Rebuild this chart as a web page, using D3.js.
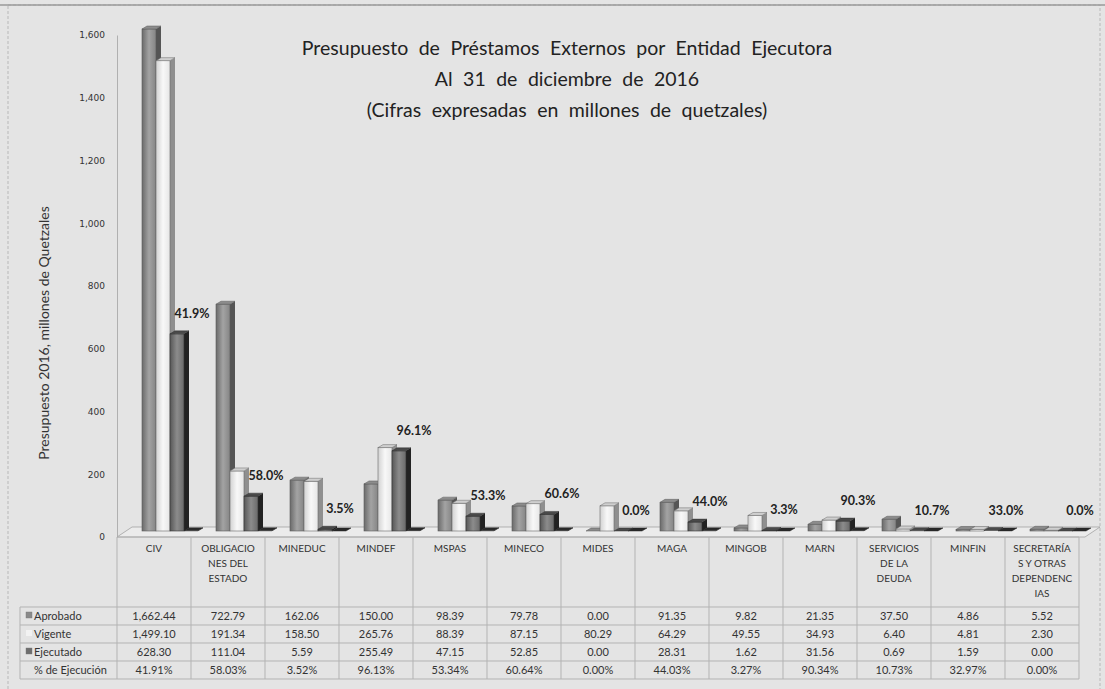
<!DOCTYPE html>
<html>
<head>
<meta charset="utf-8">
<script src="https://cdn.jsdelivr.net/npm/d3@7"></script>
<style>
body{margin:0;background:#e4e4e4;}
svg{display:block;}
</style>
</head>
<body>
<div id="chart"></div>
<script>
// data
var categories = ["CIV","OBLIGACIONES DEL ESTADO","MINEDUC","MINDEF","MSPAS","MINECO","MIDES","MAGA","MINGOB","MARN","SERVICIOS DE LA DEUDA","MINFIN","SECRETARÍAS Y OTRAS DEPENDENCIAS"];
var categoryLines = [["CIV"],["OBLIGACIO","NES DEL","ESTADO"],["MINEDUC"],["MINDEF"],["MSPAS"],["MINECO"],["MIDES"],["MAGA"],["MINGOB"],["MARN"],["SERVICIOS","DE LA","DEUDA"],["MINFIN"],["SECRETARÍA","S Y OTRAS","DEPENDENC","IAS"]];
var aprobado  = [1662.44, 722.79, 162.06, 150.00, 98.39, 79.78, 0.00, 91.35, 9.82, 21.35, 37.50, 4.86, 5.52];
var vigente   = [1499.10, 191.34, 158.50, 265.76, 88.39, 87.15, 80.29, 64.29, 49.55, 34.93, 6.40, 4.81, 2.30];
var ejecutado = [628.30, 111.04, 5.59, 255.49, 47.15, 52.85, 0.00, 28.31, 1.62, 31.56, 0.69, 1.59, 0.00];
var pctEjecucion = [41.91, 58.03, 3.52, 96.13, 53.34, 60.64, 0.00, 44.03, 3.27, 90.34, 10.73, 32.97, 0.00];
var yTicks = [0, 200, 400, 600, 800, 1000, 1200, 1400, 1600];
var titleLines = ["Presupuesto de Préstamos Externos por Entidad Ejecutora", "Al 31 de diciembre de 2016", "(Cifras expresadas en millones de quetzales)"];

var width = 1105, height = 689;

// the 4 series in the 3D chart; % is plotted as a flat bar (fraction of 1)
var series = [
  {key:"apr", name:"Aprobado", values:aprobado, stops:["#6a6a6a","#a3a3a3","#858585"], edge:"#5a5a5a", side:"#555", top:"#8c8c8c", marker:"#8a8a8a"},
  {key:"vig", name:"Vigente", values:vigente, stops:["#d2d2d2","#f8f8f8","#e6e6e6"], edge:"#6a6a6a", side:"#8f8f8f", top:"#cfcfcf", marker:"#f2f2f2"},
  {key:"eje", name:"Ejecutado", values:ejecutado, stops:["#575757","#8c8c8c","#6a6a6a"], edge:"#333", side:"#222", top:"#4a4a4a", marker:"#6e6e6e"},
  {key:"pct", name:"% de Ejecución", values:pctEjecucion.map(function(p){return p/100}), stops:["#333","#444","#333"], edge:"#222", side:"#1e1e1e", top:"#2a2a2a", marker:null}
];

var svg = d3.select("#chart").append("svg")
  .attr("width", width)
  .attr("height", height)
  .style("font-family", "Lato, 'Open Sans', sans-serif");

svg.append("rect").attr("width", width).attr("height", height).attr("fill", "#e4e4e4");

var defs = svg.append("defs");
series.forEach(function(s){
  var gr = defs.append("linearGradient").attr("id", "grad-" + s.key).attr("x1", "0%").attr("x2", "100%");
  s.stops.forEach(function(c, i){
    gr.append("stop").attr("offset", (i * 50) + "%").attr("stop-color", c);
  });
});

// chart frame
svg.append("rect").attr("x", 8).attr("y", 5).attr("width", 1092).attr("height", 690)
  .attr("fill", "none").attr("stroke", "#b8b8b8").attr("stroke-dasharray", "3,2");
svg.append("line").attr("x1", 0).attr("x2", width).attr("y1", 5).attr("y2", 5)
  .attr("stroke", "#9a9a9a").attr("stroke-width", 1.5);

var x = d3.scaleBand().domain(categories).range([117, 1079]);
var xs = d3.scaleBand().domain(series.map(function(s){return s.key})).range([25, 81]);
var y = d3.scaleLinear().domain([0, 1600]).range([537, 35]).clamp(true);

var lift = 6, depthX = 5, depthY = 3;

// y axis
var yAxis = svg.append("g")
  .attr("transform", "translate(117,0)")
  .call(d3.axisLeft(y).tickValues(yTicks).tickFormat(d3.format(",")).tickSize(0).tickPadding(12));
yAxis.select(".domain").attr("stroke", "#b0b0b0");
yAxis.selectAll("text").attr("fill", "#333").style("font-family", "'DejaVu Sans', sans-serif").style("font-size", "9px");

svg.append("text")
  .attr("transform", "translate(49,333) rotate(-90)")
  .attr("text-anchor", "middle")
  .attr("fill", "#333")
  .style("font-size", "14px")
  .text("Presupuesto 2016, millones de Quetzales");

// floor of the 3d plot
svg.append("path")
  .attr("d", "M117,537 L1085,537 L1100,527 L132,527 Z")
  .attr("fill", "#ebebeb").attr("stroke", "#9a9a9a").attr("stroke-width", 0.7);

function drawBar(g, x0, w, v, s){
  var yTop = y(v) - lift, yBase = y(0) - lift;
  g.append("path")
    .attr("d", "M" + (x0 + w) + "," + yTop + " L" + (x0 + w + depthX) + "," + (yTop - depthY) + " L" + (x0 + w + depthX) + "," + (yBase - depthY) + " L" + (x0 + w) + "," + yBase + "Z")
    .attr("fill", s.side);
  if(yBase - yTop > 0.5){
    g.append("rect")
      .attr("x", x0).attr("y", yTop).attr("width", w).attr("height", yBase - yTop)
      .attr("fill", "url(#grad-" + s.key + ")")
      .attr("stroke", s.edge).attr("stroke-width", 0.6);
  }
  g.append("path")
    .attr("d", "M" + x0 + "," + yTop + " L" + (x0 + depthX) + "," + (yTop - depthY) + " L" + (x0 + w + depthX) + "," + (yTop - depthY) + " L" + (x0 + w) + "," + yTop + "Z")
    .attr("fill", s.top).attr("stroke", s.edge).attr("stroke-width", 0.5);
}

var bars = svg.append("g");
categories.forEach(function(c, i){
  var g = bars.append("g");
  series.forEach(function(s){
    drawBar(g, x(c) + xs(s.key), xs.bandwidth(), s.values[i], s);
  });
});

// % labels sit over the Ejecutado bar
svg.append("g").selectAll("text")
  .data(categories)
  .join("text")
  .attr("x", function(c){ return x(c) + xs("eje") + xs.bandwidth() / 2 + 15 })
  .attr("y", function(c, i){ return y(ejecutado[i]) - lift - 16 })
  .attr("text-anchor", "middle")
  .attr("fill", "#222")
  .style("font-size", "12.5px")
  .style("font-weight", "bold")
  .text(function(c, i){ return d3.format(".1f")(pctEjecucion[i]) + "%" });

// title
svg.append("g").selectAll("text")
  .data(titleLines)
  .join("text")
  .attr("x", 567)
  .attr("y", function(d, i){ return 55 + i * 31 })
  .attr("text-anchor", "middle")
  .attr("fill", "#222")
  .style("font-size", "19.5px")
  .style("word-spacing", "5.5px")
  .text(function(d){ return d });

// data table
var table = svg.append("g").attr("fill", "#333");
var rowTop = 607, rowH = 18, tableLeft = 20, tableRight = x.range()[1];
var lineColor = "#b3b3b3";

table.append("line").attr("x1", 117).attr("x2", tableRight).attr("y1", 537).attr("y2", 537).attr("stroke", lineColor);
d3.range(5).forEach(function(r){
  table.append("line").attr("x1", tableLeft).attr("x2", tableRight)
    .attr("y1", rowTop + r * rowH).attr("y2", rowTop + r * rowH).attr("stroke", lineColor);
});
categories.concat([null]).forEach(function(c){
  var xx = c ? x(c) : tableRight;
  table.append("line").attr("x1", xx).attr("x2", xx).attr("y1", 537).attr("y2", rowTop + 4 * rowH).attr("stroke", lineColor);
});
table.append("line").attr("x1", tableLeft).attr("x2", tableLeft).attr("y1", rowTop).attr("y2", rowTop + 4 * rowH).attr("stroke", lineColor);

categories.forEach(function(c, i){
  table.append("g").selectAll("text")
    .data(categoryLines[i])
    .join("text")
    .attr("x", x(c) + x.bandwidth() / 2)
    .attr("y", function(d, k){ return 552 + k * 15 })
    .attr("text-anchor", "middle")
    .style("font-size", "10px")
    .text(function(d){ return d });
});

var fmtVal = d3.format(",.2f");
series.forEach(function(s, r){
  var cy = rowTop + r * rowH + rowH / 2 + 4;
  if(s.marker){
    table.append("rect").attr("x", tableLeft + 6).attr("y", cy - 8).attr("width", 6).attr("height", 6)
      .attr("fill", s.marker).attr("stroke", s.key == "vig" ? "none" : "#777").attr("stroke-width", 0.4);
  }
  table.append("text").attr("x", tableLeft + 14).attr("y", cy).style("font-size", "11px").text(s.name);
  table.append("g").selectAll("text")
    .data(categories)
    .join("text")
    .attr("x", function(c){ return x(c) + x.bandwidth() / 2 })
    .attr("y", cy)
    .attr("text-anchor", "middle")
    .style("font-size", "11px")
    .text(function(c, i){ return s.key == "pct" ? d3.format(".2f")(pctEjecucion[i]) + "%" : fmtVal(s.values[i]) });
});
</script>
</body>
</html>
